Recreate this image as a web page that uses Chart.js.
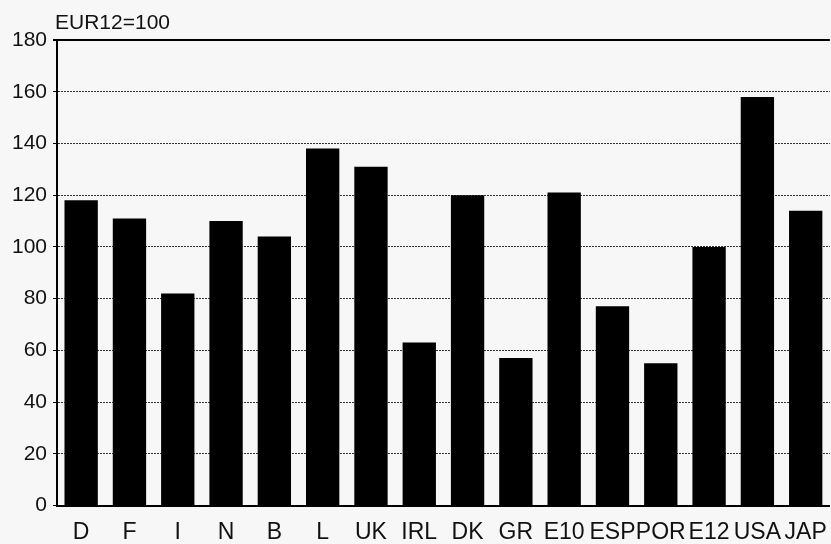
<!DOCTYPE html>
<html>
<head>
<meta charset="utf-8">
<script src="https://cdn.jsdelivr.net/npm/chart.js@4/dist/chart.umd.min.js"></script>
<style>
  html, body { margin: 0; padding: 0; background: #f7f7f7; overflow: hidden; }
  #wrap { width: 840px; height: 544px; position: relative; }
</style>
</head>
<body>
<div id="wrap"><canvas id="c" width="840" height="544"></canvas></div>
<script>
// Index, EUR12 = 100
const countries = ['D', 'F', 'I', 'N', 'B', 'L', 'UK', 'IRL', 'DK', 'GR', 'E10', 'ESP', 'POR', 'E12', 'USA', 'JAP'];
const indexValues = [118, 111, 82, 110, 104, 138, 131, 63, 120, 57, 121, 77, 55, 100, 158, 114];
const yTicks = [0, 20, 40, 60, 80, 100, 120, 140, 160, 180];
const unitLabel = 'EUR12=100';

const FONT = '"Liberation Sans", Arimo, Helvetica, Arial, sans-serif';

const unitTitle = {
  id: 'unitTitle',
  afterDraw(chart) {
    const { ctx, chartArea } = chart;
    ctx.save();
    ctx.font = '21px ' + FONT;
    ctx.fillStyle = '#111';
    ctx.textAlign = 'left';
    ctx.textBaseline = 'alphabetic';
    ctx.fillText(unitLabel, chartArea.left - 2, chartArea.top - 11);
    ctx.restore();
  }
};

new Chart(document.getElementById('c'), {
  type: 'bar',
  data: {
    labels: countries,
    datasets: [{
      data: indexValues,
      backgroundColor: '#000',
      borderWidth: 0,
      barPercentage: 0.69,
      categoryPercentage: 1.0
    }]
  },
  options: {
    responsive: false,
    animation: false,
    events: [],
    layout: { padding: { top: 40, right: 7, left: 0, bottom: 0 } },
    plugins: { legend: { display: false }, tooltip: { enabled: false }, title: { display: false } },
    scales: {
      x: {
        afterFit(scale) { scale.height = 38.5; },
        grid: { display: false, drawTicks: false },
        border: { display: true, color: '#000', width: 2 },
        ticks: { color: '#111', font: { family: FONT, size: 23 }, padding: 13, maxRotation: 0, autoSkip: false }
      },
      y: {
        min: 0,
        max: 180,
        afterFit(scale) { scale.width = 57; },
        afterBuildTicks(scale) { scale.ticks = yTicks.map(v => ({ value: v })); },
        grid: {
          color: c => (c.tick && c.tick.value === 180) ? '#000' : (c.tick && c.tick.value === 0 ? 'rgba(0,0,0,0)' : '#333'),
          lineWidth: c => (c.tick && c.tick.value === 180) ? 2 : 1,
          tickLength: 4,
          tickColor: '#000'
        },
        border: {
          display: true, color: '#000', width: 2,
          dash: c => (c.tick && c.tick.value !== 180) ? [2, 1] : []
        },
        ticks: { color: '#111', font: { family: FONT, size: 21 }, padding: 6 }
      }
    }
  },
  plugins: [unitTitle]
});
</script>
</body>
</html>
